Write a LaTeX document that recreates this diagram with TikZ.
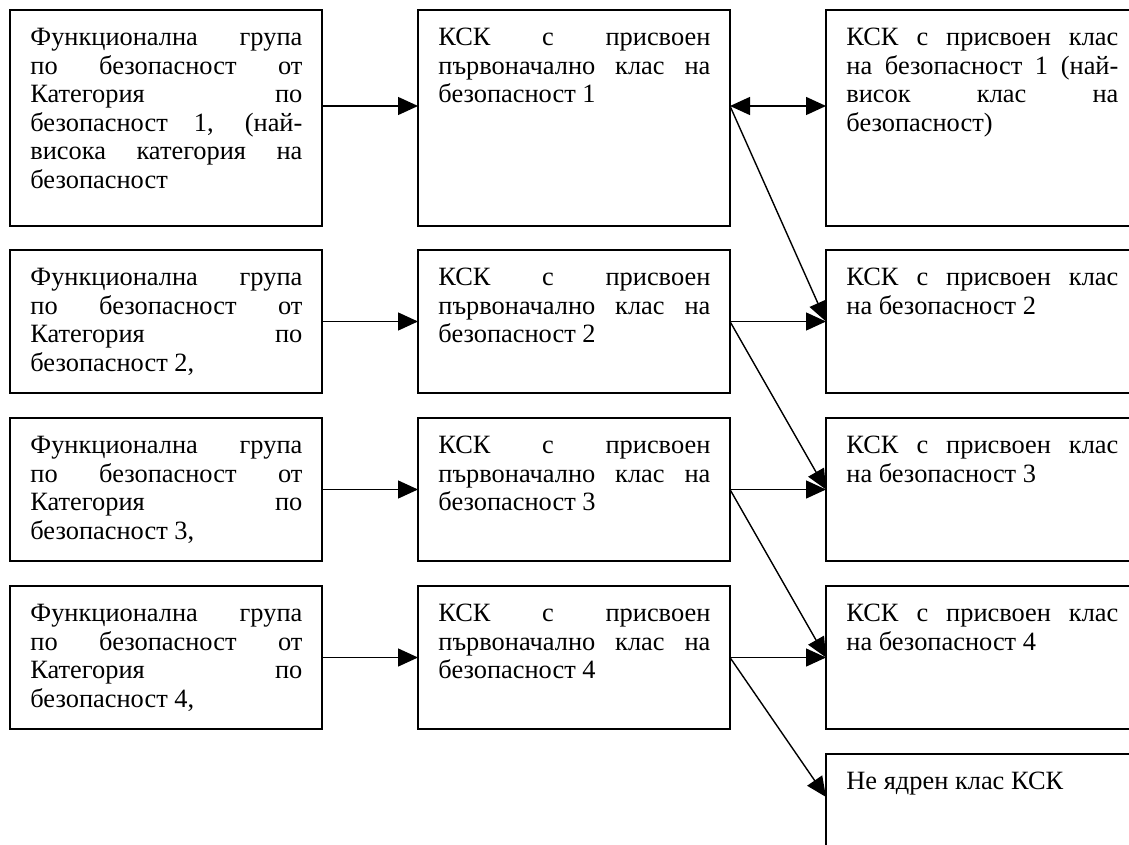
\documentclass[tikz,border=0pt]{standalone}
\usepackage{fontspec}
\setmainfont{Liberation Serif}
\usetikzlibrary{arrows.meta}
\tolerance=10000
\hbadness=10000

\begin{document}
\begin{tikzpicture}[x=0.5pt,y=0.5pt,yscale=-1,xscale=1,
  box/.style={draw, line width=1.1pt, anchor=north west, inner sep=0pt, outer sep=0pt, minimum width=156pt, minimum height=#1},
  boxtext/.style={anchor=north west, inner sep=0pt, text width=136pt, align=justify, font=\fontsize{13.2pt}{14.3pt}\selectfont},
  link/.style={line width=0.7pt, -{Triangle[length=10pt,width=9pt]}},
  twolink/.style={line width=0.7pt, {Triangle[length=10pt,width=9pt]}-{Triangle[length=10pt,width=9pt]}}]
\useasboundingbox (0,0) rectangle (1129,845);

%Shape: Rectangle, left column
\node [box=108pt] (l1) at (10,10) {};
\node [box=71.5pt] (l2) at (10,250) {};
\node [box=71.5pt] (l3) at (10,418) {};
\node [box=71.5pt] (l4) at (10,586) {};
%Shape: Rectangle, middle column
\node [box=108pt] (m1) at (418,10) {};
\node [box=71.5pt] (m2) at (418,250) {};
\node [box=71.5pt] (m3) at (418,418) {};
\node [box=71.5pt] (m4) at (418,586) {};
%Shape: Rectangle, right column (cut by the page edge)
\node [box=108pt, minimum width=160pt] (r1) at (826,10) {};
\node [box=71.5pt, minimum width=160pt] (r2) at (826,250) {};
\node [box=71.5pt, minimum width=160pt] (r3) at (826,418) {};
\node [box=71.5pt, minimum width=160pt] (r4) at (826,586) {};
\node [box=71.5pt, minimum width=160pt] (r5) at (826,754) {};

% Text Node
\node [boxtext] (l1t) at (30,25) {\strut Функционална група\break по безопасност от\break Категория по\break безопасност 1, (най-\break висока категория на\break безопасност};
% Text Node
\node [boxtext] (l2t) at (30,265) {\strut Функционална група\break по безопасност от\break Категория по\break безопасност 2,};
% Text Node
\node [boxtext] (l3t) at (30,433) {\strut Функционална група\break по безопасност от\break Категория по\break безопасност 3,};
% Text Node
\node [boxtext] (l4t) at (30,601) {\strut Функционална група\break по безопасност от\break Категория по\break безопасност 4,};
% Text Node
\node [boxtext] (m1t) at (438,25) {\strut КСК с присвоен\break първоначално клас на\break безопасност 1};
% Text Node
\node [boxtext] (m2t) at (438,265) {\strut КСК с присвоен\break първоначално клас на\break безопасност 2};
% Text Node
\node [boxtext] (m3t) at (438,433) {\strut КСК с присвоен\break първоначално клас на\break безопасност 3};
% Text Node
\node [boxtext] (m4t) at (438,601) {\strut КСК с присвоен\break първоначално клас на\break безопасност 4};
% Text Node
\node [boxtext] (r1t) at (846,25) {\strut КСК с присвоен клас\break на безопасност 1 (най-\break висок клас на\break безопасност)};
% Text Node
\node [boxtext] (r2t) at (846,265) {\strut КСК с присвоен клас\break на безопасност 2};
% Text Node
\node [boxtext] (r3t) at (846,433) {\strut КСК с присвоен клас\break на безопасност 3};
% Text Node
\node [boxtext] (r4t) at (846,601) {\strut КСК с присвоен клас\break на безопасност 4};
% Text Node
\node [boxtext] (r5t) at (846,769) {\strut Не ядрен клас КСК};

%Straight Lines, left to middle
\draw [link] ([yshift=-6pt]l1.east) -- ([yshift=-6pt]m1.west);
\draw [link] (l2.east) -- (m2.west);
\draw [link] (l3.east) -- (m3.west);
\draw [link] (l4.east) -- (m4.west);
%Straight Lines, middle to right
\draw [twolink] ([yshift=-6pt]m1.east) -- ([yshift=-6pt]r1.west);
\draw [link] (m2.east) -- (r2.west);
\draw [link] (m3.east) -- (r3.west);
\draw [link] (m4.east) -- (r4.west);
%Straight Lines, one class down
\draw [link] ([yshift=-6pt]m1.east) -- (r2.west);
\draw [link] (m2.east) -- (r3.west);
\draw [link] (m3.east) -- (r4.west);
\draw [link] (m4.east) -- ([yshift=-14.25pt]r5.west);

\end{tikzpicture}
\end{document}
